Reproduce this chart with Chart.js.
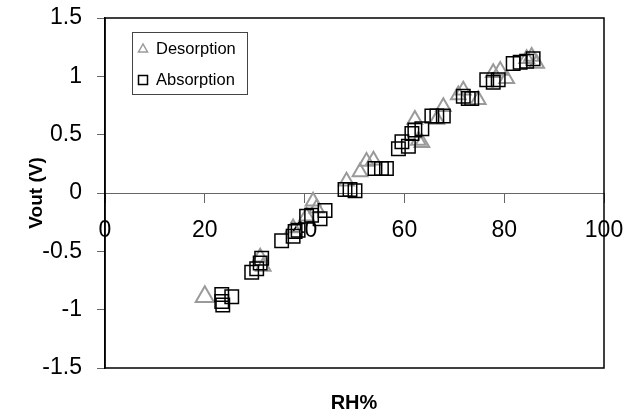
<!DOCTYPE html>
<html lang="en">
<head>
    <meta charset="UTF-8">
    <title>Vout vs RH%</title>
    <script src="https://cdn.jsdelivr.net/npm/chart.js"></script>
    <style>
        html, body {
            margin: 0;
            padding: 0;
            background: #fff;
        }

        #wrap {
            width: 626px;
            height: 416px;
        }
    </style>
</head>
<body>
    <div id="wrap"><canvas id="rhChart"></canvas></div>

    <script>
        // values
        const desorptionRH = [20.0, 31.1, 31.7, 37.7, 40.4, 41.7, 42.4, 48.4, 51.1, 52.4, 53.8, 62.1, 62.8, 63.5,
            66.5, 67.8, 70.8, 71.8, 74.8, 77.8, 79.2, 80.5, 84.5, 85.5, 86.5];
        const desorptionV = [-0.89, -0.55, -0.63, -0.30, -0.20, -0.07, -0.13, 0.10, 0.18, 0.27, 0.28, 0.63, 0.45, 0.43,
            0.63, 0.74, 0.84, 0.88, 0.80, 1.03, 1.05, 0.98, 1.15, 1.17, 1.11];

        const absorptionRH = [23.4, 23.4, 23.6, 25.4, 29.4, 30.4, 31.1, 31.4, 35.4, 37.7, 38.1, 38.7, 40.4, 41.4,
            43.1, 44.1, 48.1, 49.1, 50.1, 54.1, 55.4, 56.4, 58.8, 59.5, 60.8, 61.5, 62.1, 63.5, 65.5, 66.5, 67.8,
            71.8, 72.8, 73.5, 76.5, 77.8, 78.8, 81.8, 83.2, 84.5, 85.8];
        const absorptionV = [-0.87, -0.93, -0.96, -0.89, -0.68, -0.65, -0.60, -0.56, -0.41, -0.37, -0.33, -0.32, -0.20, -0.19,
            -0.22, -0.15, 0.03, 0.03, 0.02, 0.21, 0.21, 0.21, 0.38, 0.44, 0.40, 0.51, 0.54, 0.55, 0.66, 0.66, 0.66,
            0.83, 0.81, 0.81, 0.97, 0.95, 0.97, 1.11, 1.12, 1.13, 1.15];

        const seriesNames = ['Desorption', 'Absorption'];
        const xRange = [0, 100, 20];
        const yRange = [-1.5, 1.5, 0.5];
        const axisTitles = ['RH%', 'Vout (V)'];

        const FONT = "'Liberation Sans', Arial, sans-serif";

        const toPoints = (xs, ys) => xs.map((x, i) => ({ x: x, y: ys[i] }));
        const plainNum = (v) => String(Math.round(v * 10) / 10);

        // frame, legend box and axis titles
        const extras = {
            id: 'extras',
            afterDraw(chart) {
                const ctx = chart.ctx;
                const a = chart.chartArea;
                ctx.save();

                ctx.strokeStyle = '#000';
                ctx.lineWidth = 1.5;
                ctx.strokeRect(a.left, a.top, a.right - a.left, a.bottom - a.top);

                // legend
                ctx.strokeStyle = '#444';
                ctx.lineWidth = 1;
                ctx.strokeRect(132.5, 32.5, 115, 62);

                ctx.strokeStyle = '#9a9a9a';
                ctx.lineWidth = 1.5;
                ctx.beginPath();
                ctx.moveTo(143, 44);
                ctx.lineTo(138.5, 52);
                ctx.lineTo(147.5, 52);
                ctx.closePath();
                ctx.stroke();

                ctx.strokeStyle = '#000';
                ctx.strokeRect(138.5, 75.5, 9, 9);

                ctx.fillStyle = '#000';
                ctx.font = '16.5px ' + FONT;
                ctx.textAlign = 'left';
                ctx.textBaseline = 'middle';
                ctx.fillText(seriesNames[0], 156, 49);
                ctx.fillText(seriesNames[1], 156, 80);

                // axis titles
                ctx.font = 'bold 20px ' + FONT;
                ctx.textAlign = 'center';
                ctx.fillText(axisTitles[0], 354, 403);

                ctx.translate(37, 193);
                ctx.rotate(-Math.PI / 2);
                ctx.font = 'bold 19px ' + FONT;
                ctx.fillText(axisTitles[1], 0, 0);

                ctx.restore();
            }
        };

        const ctx = document.getElementById('rhChart').getContext('2d');
        const rhChart = new Chart(ctx, {
            type: 'scatter',
            data: {
                datasets: [{
                    label: seriesNames[0],
                    data: toPoints(desorptionRH, desorptionV),
                    pointStyle: 'triangle',
                    pointRadius: (c) => (c.dataIndex === 0 ? 10.5 : 8.5),
                    borderColor: '#9a9a9a',
                    backgroundColor: 'rgba(0,0,0,0)',
                    borderWidth: 2,
                    order: 1
                }, {
                    label: seriesNames[1],
                    data: toPoints(absorptionRH, absorptionV),
                    pointStyle: 'rect',
                    pointRadius: 9.5,
                    borderColor: '#000',
                    backgroundColor: 'rgba(0,0,0,0)',
                    borderWidth: 1.5,
                    order: 0
                }]
            },
            options: {
                animation: false,
                responsive: true,
                maintainAspectRatio: false,
                layout: {
                    padding: { left: 0, top: 18, right: 22, bottom: 48 }
                },
                plugins: {
                    legend: { display: false },
                    tooltip: { enabled: false }
                },
                scales: {
                    x: {
                        type: 'linear',
                        position: { y: 0 },
                        min: xRange[0],
                        max: xRange[1],
                        ticks: {
                            stepSize: xRange[2],
                            padding: 15,
                            color: '#000',
                            font: { family: FONT, size: 23 },
                            callback: plainNum
                        },
                        grid: {
                            drawOnChartArea: false,
                            tickLength: 9,
                            color: '#666'
                        },
                        border: { color: '#666', width: 1 },
                        afterFit(s) {
                            s.paddingLeft = 0;
                            s.paddingRight = 0;
                        }
                    },
                    y: {
                        type: 'linear',
                        position: 'left',
                        min: yRange[0],
                        max: yRange[1],
                        ticks: {
                            stepSize: yRange[2],
                            padding: 15,
                            color: '#000',
                            font: { family: FONT, size: 23 },
                            callback: plainNum
                        },
                        grid: {
                            drawOnChartArea: false,
                            tickLength: 8,
                            color: '#666'
                        },
                        border: { color: '#000', width: 1.5 },
                        afterFit(s) {
                            s.width = 105;
                            s.paddingTop = 0;
                            s.paddingBottom = 0;
                        }
                    }
                }
            },
            plugins: [extras]
        });
    </script>
</body>
</html>
